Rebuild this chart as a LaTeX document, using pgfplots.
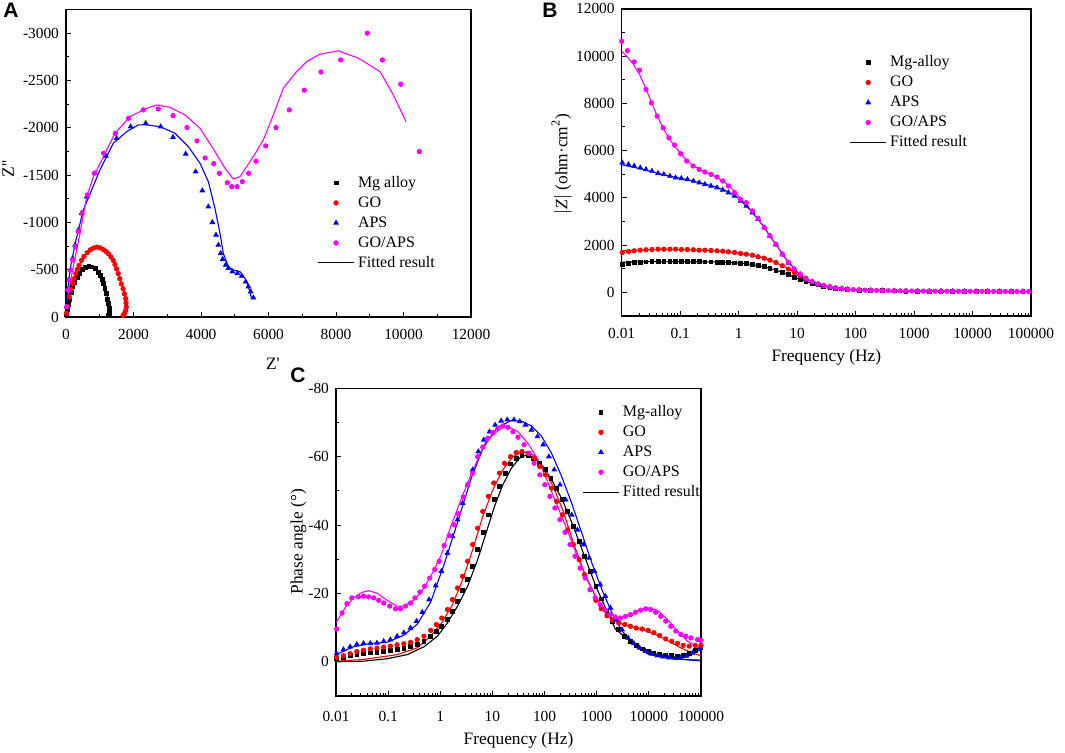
\documentclass[border=0pt]{standalone}
\usepackage{fontspec}
\setmainfont{Liberation Serif}
\newfontfamily\lsans{Liberation Sans}
\usepackage{pgfplots}
\pgfplotsset{compat=1.18}
\definecolor{mag}{RGB}{255,0,255}
\definecolor{rd}{RGB}{255,0,0}
\definecolor{bl}{RGB}{0,0,255}
\pgfplotsset{
  mylegimg/.style={legend image code/.code={\draw[mark repeat=2,mark phase=2,##1] plot coordinates {(0pt,0pt) (9pt,0pt) (18pt,0pt)};}},
  panel/.style={
    scale only axis, scaled ticks=false,
    axis line style={line width=0.7pt},
    tick align=inside,
    xtick pos=left, ytick pos=left,
    major tick length=2.6pt, minor tick length=1.5pt,
    every tick/.style={black, line width=0.5pt},
    tick label style={font=\fontsize{7.7}{9}\selectfont},
    xticklabel style={yshift=-2.5pt},
    label style={font=\fontsize{8.7}{10}\selectfont},
    legend cell align=left,
    legend style={draw=none, fill=none, inner sep=0pt, row sep=1.2pt, column sep=1.2pt, anchor=north west,
      font=\fontsize{8}{9}\selectfont, nodes={inner sep=0.5pt, text height=6pt, text depth=1.8pt}},
  },
  logx/.style={
    xmin=-2, xmax=5,
    xtick={-2,-1,0,1,2,3,4,5},
    xticklabels={0.01,0.1,1,10,100,1000,10000,100000},
    minor xtick={-1.699,-1.523,-1.398,-1.301,-1.222,-1.155,-1.097,-1.046,
      -0.699,-0.523,-0.398,-0.301,-0.222,-0.155,-0.097,-0.046,
      0.301,0.477,0.602,0.699,0.778,0.845,0.903,0.954,
      1.301,1.477,1.602,1.699,1.778,1.845,1.903,1.954,
      2.301,2.477,2.602,2.699,2.778,2.845,2.903,2.954,
      3.301,3.477,3.602,3.699,3.778,3.845,3.903,3.954,
      4.301,4.477,4.602,4.699,4.778,4.845,4.903,4.954},
  },
  sq/.style={only marks, mark=square*, mark size=0.95pt, black},
  ci/.style={only marks, mark=*, mark size=1.1pt, rd},
  tr/.style={only marks, mark=triangle*, mark size=1.3pt, bl},
  cm/.style={only marks, mark=*, mark size=1.1pt, mag},
  fit/.style={no marks, line width=0.55pt},
}
\begin{document}
\begin{tikzpicture}
\useasboundingbox (0,0) rectangle (532.5pt,-376pt);
\node[font=\lsans\bfseries\fontsize{10.5}{12}\selectfont] at (5.5pt,-5.25pt) {A};
\node[font=\lsans\bfseries\fontsize{10.5}{12}\selectfont] at (275pt,-5pt) {B};
\node[font=\lsans\bfseries\fontsize{10.5}{12}\selectfont] at (149pt,-187.5pt) {C};

% ---------------- Panel A ----------------
\begin{axis}[panel, at={(33pt,-158.5pt)}, anchor=south west, width=202.5pt, height=153.75pt,
  xmin=0, xmax=12000, ymin=-3250, ymax=0, y dir=reverse,
  xtick={0,2000,4000,6000,8000,10000,12000},
  xticklabels={0,2000,4000,6000,8000,10000,12000},
  minor xtick={1000,3000,5000,7000,9000,11000},
  ytick={-3000,-2500,-2000,-1500,-1000,-500,0},
  yticklabels={-3000,-2500,-2000,-1500,-1000,-500,0},
  minor ytick={-3250,-2750,-2250,-1750,-1250,-750,-250},
  xlabel={Z\textquotesingle}, ylabel={Z\textquotesingle\textquotesingle},
  xlabel style={at={(axis description cs:0.511,-0.151)}, anchor=center},
  ylabel style={at={(axis description cs:-0.143,0.481)}, anchor=center},
  legend style={at={(0.620,0.466)}},
]
\addplot[sq, forget plot] coordinates {(10,-30) (30,-80) (60,-130) (97,-180) (150,-260) (200,-320) (260,-370) (338,-422) (410,-465) (483,-500) (580,-525) (676,-538) (770,-530) (869,-510) (950,-475) (1014,-440) (1070,-400) (1111,-352) (1150,-300) (1188,-246) (1225,-190) (1256,-141) (1275,-95) (1285,-53) (1275,-30) (1256,-18)};
\addplot[fit, black, forget plot] coordinates {(0,0) (50,-110) (150,-260) (300,-400) (500,-505) (700,-540) (900,-505) (1050,-420) (1150,-320) (1230,-200) (1270,-100) (1290,-30) (1280,0)};
\addplot[ci, forget plot] coordinates {(10,-40) (40,-110) (97,-211) (145,-290) (193,-352) (240,-405) (290,-458) (340,-505) (386,-546) (460,-600) (531,-641) (630,-680) (725,-711) (820,-730) (918,-739) (1015,-730) (1111,-711) (1190,-692) (1256,-669) (1330,-635) (1401,-598) (1450,-555) (1497,-510) (1545,-460) (1594,-405) (1640,-350) (1691,-299) (1730,-245) (1768,-194) (1780,-150) (1787,-106) (1770,-70) (1739,-42) (1691,-18)};
\addplot[fit, rd, forget plot] coordinates {(0,0) (40,-110) (150,-300) (300,-470) (500,-620) (700,-705) (900,-740) (1100,-715) (1300,-650) (1450,-560) (1580,-420) (1690,-300) (1770,-180) (1800,-90) (1790,-40) (1760,-10)};
\addplot[tr, forget plot] coordinates {(20,-109) (49,-285) (89,-391) (138,-497) (197,-620) (267,-761) (366,-920) (464,-1096) (612,-1272) (859,-1519) (1185,-1702) (1501,-1889) (1916,-2012) (2360,-2048) (2806,-2012) (3170,-1900) (3546,-1724) (3841,-1536) (4039,-1336) (4217,-1166) (4336,-1001) (4445,-867) (4513,-761) (4583,-673) (4642,-610) (4731,-550) (4810,-515) (4929,-479) (5076,-462) (5205,-434) (5324,-373) (5403,-321) (5472,-268) (5550,-204)};
\addplot[fit, bl, forget plot] coordinates {(0,0) (50,-300) (150,-560) (300,-820) (513,-1131) (1007,-1554) (1402,-1836) (1797,-1959) (2143,-2030) (2390,-2030) (2785,-2012) (3230,-1942) (3625,-1801) (3970,-1625) (4217,-1431) (4415,-1145) (4563,-885) (4661,-673) (4810,-532) (4958,-497) (5156,-479) (5304,-409) (5403,-321) (5502,-190)};
\addplot[cm, forget plot] coordinates {(20,-109) (59,-285) (99,-391) (138,-497) (197,-603) (276,-743) (366,-902) (474,-1096) (632,-1290) (839,-1519) (1116,-1731) (1462,-1942) (1857,-2101) (2291,-2189) (2735,-2199) (3170,-2129) (3585,-2002) (3881,-1861) (4119,-1681) (4376,-1621) (4543,-1519) (4780,-1420) (4909,-1378) (5067,-1378) (5224,-1431) (5413,-1519) (5630,-1646) (5916,-1808) (6222,-2002) (6617,-2189) (7062,-2397) (7556,-2590) (8139,-2717) (8928,-3000) (9373,-2717) (9917,-2460) (10469,-1748)};
\addplot[fit, mag, forget plot] coordinates {(0,0) (118,-356) (415,-885) (612,-1272) (810,-1480) (1452,-1942) (1896,-2118) (2390,-2206) (2686,-2241) (3081,-2216) (3526,-2136) (3970,-1995) (4415,-1748) (4711,-1572) (4958,-1459) (5156,-1484) (5550,-1695) (5847,-1872) (6143,-2136) (6440,-2418) (6835,-2594) (7131,-2700) (7526,-2778) (8069,-2813) (8662,-2736) (9304,-2594) (9699,-2347) (10074,-2065)};
\addlegendimage{sq, mylegimg}\addlegendentry{Mg alloy}
\addlegendimage{ci, mylegimg}\addlegendentry{GO}
\addlegendimage{tr, mylegimg}\addlegendentry{APS}
\addlegendimage{cm, mylegimg}\addlegendentry{GO/APS}
\addlegendimage{fit, black, mylegimg}\addlegendentry{Fitted result}
\end{axis}

% ---------------- Panel B ----------------
\begin{axis}[panel, logx, at={(310.85pt,-158pt)}, anchor=south west, width=204.65pt, height=153.6pt,
  ymin=-1000, ymax=12000,
  ytick={0,2000,4000,6000,8000,10000,12000},
  yticklabels={0,2000,4000,6000,8000,10000,12000},
  minor ytick={-1000,1000,3000,5000,7000,9000,11000},
  xlabel={Frequency (Hz)}, ylabel={$|$\textit{Z}$|$ (ohm·cm\textsuperscript{2})},
  xlabel style={at={(axis description cs:0.5,-0.1345)}, anchor=center},
  ylabel style={at={(axis description cs:-0.1466,0.494)}, anchor=center},
  legend style={at={(0.556,0.855)}},
]
\addplot[sq, forget plot] coordinates {(-1.99,1196) (-1.885,1238) (-1.787,1266) (-1.683,1280) (-1.585,1294) (-1.482,1300) (-1.378,1305) (-1.28,1308) (-1.176,1308) (-1.078,1308) (-0.98,1305) (-0.877,1305) (-0.773,1300) (-0.675,1300) (-0.577,1294) (-0.473,1290) (-0.37,1285) (-0.272,1280) (-0.174,1266) (-0.07,1250) (0.033,1235) (0.131,1210) (0.235,1175) (0.333,1135) (0.437,1085) (0.535,1027) (0.638,943) (0.747,844) (0.851,746) (0.949,640) (1.052,540) (1.151,455) (1.255,380) (1.358,318) (1.456,265) (1.56,220) (1.658,180) (1.762,150) (1.865,125) (2.06,97) (2.26,81) (2.46,70) (2.66,62) (2.86,56) (3.06,52) (3.26,48) (3.46,45) (3.66,43) (3.86,41) (4.06,39) (4.26,37) (4.46,36) (4.66,35) (4.86,34)};
\addplot[fit, black, forget plot] coordinates {(-2,1280) (-1.5,1300) (-1,1305) (-0.4,1290) (0,1250) (0.2,1190) (0.4,1100) (0.6,970) (0.8,800) (1.0,600) (1.2,420) (1.4,300) (1.6,210) (1.8,140) (2,100) (2.5,72) (3,55) (4,40) (5,32)};
\addplot[ci, forget plot] coordinates {(-1.99,1688) (-1.885,1730) (-1.787,1759) (-1.683,1787) (-1.585,1801) (-1.482,1815) (-1.378,1829) (-1.28,1829) (-1.176,1829) (-1.078,1829) (-0.98,1815) (-0.877,1815) (-0.773,1801) (-0.675,1787) (-0.577,1787) (-0.473,1773) (-0.37,1759) (-0.272,1745) (-0.174,1716) (-0.07,1688) (0.033,1646) (0.131,1618) (0.235,1576) (0.333,1505) (0.437,1449) (0.535,1365) (0.638,1266) (0.747,1126) (0.851,985) (0.949,844) (1.052,704) (1.151,563) (1.255,450) (1.358,352) (1.456,281) (1.56,230) (1.658,180) (1.762,150) (1.865,125) (2.06,99) (2.26,83) (2.46,72) (2.66,64) (2.86,58) (3.06,53) (3.26,49) (3.46,46) (3.66,44) (3.86,42) (4.06,40) (4.26,38) (4.46,37) (4.66,36) (4.86,35)};
\addplot[fit, rd, forget plot] coordinates {(-2,1760) (-1.6,1800) (-1.2,1820) (-0.8,1800) (-0.4,1760) (0,1660) (0.2,1580) (0.4,1470) (0.6,1300) (0.8,1060) (1.0,780) (1.2,510) (1.4,320) (1.6,210) (1.8,140) (2,100) (3,55) (4,40) (5,32)};
\addplot[tr, forget plot] coordinates {(-1.99,5487) (-1.885,5417) (-1.787,5347) (-1.683,5276) (-1.585,5206) (-1.482,5135) (-1.378,5037) (-1.28,4995) (-1.176,4924) (-1.078,4854) (-0.98,4826) (-0.877,4784) (-0.773,4713) (-0.675,4643) (-0.577,4573) (-0.473,4502) (-0.37,4432) (-0.272,4334) (-0.174,4221) (-0.07,4080) (0.033,3869) (0.131,3658) (0.235,3377) (0.333,3095) (0.437,2744) (0.535,2392) (0.638,2020) (0.747,1600) (0.851,1250) (0.949,975) (1.052,765) (1.151,585) (1.255,445) (1.358,345) (1.456,275) (1.56,230) (1.658,180) (1.762,150) (1.865,125) (2.06,100) (2.26,84) (2.46,73) (2.66,64) (2.86,58) (3.06,53) (3.26,49) (3.46,46) (3.66,44) (3.86,42) (4.06,40) (4.26,38) (4.46,37) (4.66,36) (4.86,35)};
\addplot[fit, bl, forget plot] coordinates {(-2,5400) (-1.8,5300) (-1.6,5180) (-1.4,5050) (-1.2,4930) (-1.0,4830) (-0.8,4720) (-0.6,4600) (-0.4,4470) (-0.2,4280) (0,3980) (0.2,3480) (0.4,2880) (0.6,2160) (0.8,1440) (1.0,870) (1.2,510) (1.4,310) (1.6,200) (1.8,140) (2,105) (2.5,75) (3,58) (4,41) (5,33)};
\addplot[cm, forget plot] coordinates {(-2.0,10623) (-1.902,10229) (-1.787,9750) (-1.695,9399) (-1.585,8583) (-1.493,8020) (-1.395,7457) (-1.291,6965) (-1.194,6543) (-1.096,6233) (-0.992,5867) (-0.888,5558) (-0.779,5347) (-0.675,5206) (-0.577,5093) (-0.473,4995) (-0.370,4882) (-0.272,4713) (-0.174,4502) (-0.070,4221) (0.033,3939) (0.131,3799) (0.235,3447) (0.333,3138) (0.437,2744) (0.535,2392) (0.638,2040) (0.747,1618) (0.851,1266) (0.949,985) (1.052,774) (1.151,591) (1.255,450) (1.358,352) (1.456,281) (1.56,239) (1.658,183) (1.762,155) (1.865,127) (1.96,115) (2.06,103) (2.16,94) (2.26,86) (2.36,80) (2.46,75) (2.56,71) (2.66,67) (2.76,64) (2.86,61) (2.96,58) (3.06,56) (3.16,54) (3.26,52) (3.36,50) (3.46,49) (3.56,48) (3.66,47) (3.76,46) (3.86,45) (3.96,44) (4.06,43) (4.16,42) (4.26,41) (4.36,41) (4.46,40) (4.56,40) (4.66,39) (4.76,39) (4.86,38) (4.96,38)};
\addplot[fit, mag, forget plot] coordinates {(-2,10200) (-1.9,9950) (-1.8,9650) (-1.7,9250) (-1.6,8700) (-1.5,8100) (-1.4,7500) (-1.3,7000) (-1.2,6550) (-1.1,6200) (-1.0,5900) (-0.9,5600) (-0.8,5400) (-0.7,5250) (-0.6,5130) (-0.5,5020) (-0.4,4900) (-0.3,4750) (-0.2,4580) (-0.1,4350) (0,4050) (0.1,3800) (0.2,3520) (0.3,3200) (0.4,2850) (0.5,2500) (0.6,2150) (0.7,1800) (0.8,1450) (0.9,1130) (1.0,880) (1.1,680) (1.2,520) (1.3,400) (1.4,320) (1.5,260) (1.6,210) (1.7,170) (1.8,140) (2.0,110) (2.5,80) (3,62) (4,44) (5,36)};
\addlegendimage{sq, mylegimg}\addlegendentry{Mg-alloy}
\addlegendimage{ci, mylegimg}\addlegendentry{GO}
\addlegendimage{tr, mylegimg}\addlegendentry{APS}
\addlegendimage{cm, mylegimg}\addlegendentry{GO/APS}
\addlegendimage{fit, black, mylegimg}\addlegendentry{Fitted result}
\end{axis}

% ---------------- Panel C ----------------
\begin{axis}[panel, logx, at={(168pt,-348pt)}, anchor=south west, width=182.5pt, height=153.85pt,
  ymin=-80, ymax=10, y dir=reverse,
  ytick={-80,-60,-40,-20,0}, yticklabels={-80,-60,-40,-20,0},
  minor ytick={-70,-50,-30,-10,10},
  xticklabel style={yshift=-1.5pt},
  xlabel={Frequency (Hz)}, ylabel={Phase angle (°)},
  xlabel style={at={(axis description cs:0.5,-0.143)}, anchor=center},
  ylabel style={at={(axis description cs:-0.103,0.501)}, anchor=center},
  legend style={at={(0.674,0.952)}},
]
\addplot[sq, forget plot] coordinates {(-1.987,-0.9) (-1.858,-1.4) (-1.730,-1.8) (-1.601,-2.1) (-1.472,-2.4) (-1.343,-2.6) (-1.214,-2.8) (-1.086,-3.0) (-0.957,-3.3) (-0.828,-3.6) (-0.699,-4.0) (-0.570,-4.6) (-0.442,-5.1) (-0.313,-6.0) (-0.184,-7.5) (-0.075,-9.0) (0.028,-10.4) (0.138,-12.4) (0.234,-14.8) (0.331,-17.7) (0.428,-20.9) (0.524,-24.0) (0.621,-27.9) (0.717,-32.8) (0.827,-37.9) (0.930,-43.0) (1.039,-47.4) (1.136,-51.3) (1.245,-55.2) (1.348,-57.9) (1.458,-59.6) (1.567,-60.3) (1.683,-60.3) (1.793,-59.6) (1.908,-58.1) (2.018,-56.2) (2.121,-53.7) (2.231,-50.8) (2.340,-47.4) (2.443,-44.0) (2.553,-39.6) (2.662,-35.2) (2.765,-30.9) (2.874,-26.5) (2.984,-22.1) (3.087,-18.4) (3.196,-14.8) (3.306,-11.9) (3.422,-9.4) (3.538,-7.5) (3.647,-6.0) (3.757,-4.8) (3.873,-3.8) (3.988,-3.1) (4.098,-2.6) (4.207,-2.2) (4.323,-2.0) (4.439,-1.8) (4.549,-1.7) (4.658,-1.8) (4.774,-2.4) (4.890,-3.4) (4.999,-4.1)};
\addplot[fit, black, forget plot] coordinates {(-2,0) (-1.472,-0.2) (-1.021,-0.9) (-0.635,-2.1) (-0.313,-4.4) (-0.055,-7.5) (0.138,-11.4) (0.331,-16.3) (0.524,-22.1) (0.717,-29.9) (0.878,-37.7) (1.039,-45.4) (1.200,-51.8) (1.361,-56.6) (1.522,-59.6) (1.651,-60.5) (1.780,-60.0) (1.908,-58.1) (2.121,-53.7) (2.340,-47.4) (2.553,-39.6) (2.765,-30.9) (2.984,-22.1) (3.196,-14.8) (3.357,-9.6) (3.679,-5.5) (4.001,-2.8) (4.323,-1.4) (4.645,-0.7) (5.0,-0.3)};
\addplot[ci, forget plot] coordinates {(-1.987,-1.2) (-1.858,-1.8) (-1.730,-2.4) (-1.601,-3.0) (-1.472,-3.4) (-1.343,-3.8) (-1.214,-4.0) (-1.086,-4.3) (-0.957,-4.6) (-0.828,-5.0) (-0.699,-5.3) (-0.570,-5.7) (-0.442,-6.5) (-0.313,-7.5) (-0.184,-9.2) (-0.075,-10.9) (0.028,-12.8) (0.138,-15.3) (0.234,-18.2) (0.331,-21.6) (0.428,-25.0) (0.524,-29.4) (0.621,-34.3) (0.717,-39.1) (0.814,-44.0) (0.923,-48.4) (1.026,-52.3) (1.136,-55.2) (1.232,-58.1) (1.348,-60.0) (1.458,-61.2) (1.567,-61.5) (1.683,-61.0) (1.799,-59.6) (1.908,-57.1) (2.018,-54.7) (2.134,-50.8) (2.231,-46.9) (2.340,-43.0) (2.443,-38.6) (2.553,-34.3) (2.662,-29.9) (2.765,-25.5) (2.874,-21.1) (2.984,-18.0) (3.087,-15.5) (3.196,-13.5) (3.306,-12.2) (3.422,-11.4) (3.538,-10.9) (3.647,-10.4) (3.757,-9.9) (3.873,-9.6) (3.988,-9.2) (4.098,-8.5) (4.207,-7.7) (4.323,-6.7) (4.439,-6.0) (4.549,-5.4) (4.658,-4.8) (4.774,-4.6) (4.890,-4.8) (4.999,-4.8)};
\addplot[fit, rd, forget plot] coordinates {(-2,-0.2) (-1.472,-0.7) (-0.828,-2.1) (-0.442,-4.1) (-0.184,-7.5) (0.028,-11.4) (0.234,-16.7) (0.428,-24.0) (0.621,-32.8) (0.814,-42.5) (1.007,-50.3) (1.200,-56.2) (1.393,-60.0) (1.586,-61.5) (1.780,-60.5) (1.973,-57.1) (2.166,-51.3) (2.359,-44.0) (2.553,-34.7) (2.765,-26.0) (2.971,-19.2) (3.164,-14.8) (3.357,-11.9) (3.615,-10.4) (3.873,-9.4) (4.130,-8.0) (4.388,-6.0) (4.645,-3.8) (5.0,-1.7)};
\addplot[tr, forget plot] coordinates {(-1.987,-2.4) (-1.858,-3.6) (-1.730,-4.4) (-1.601,-5.1) (-1.472,-5.4) (-1.343,-5.4) (-1.214,-5.5) (-1.086,-6.0) (-0.957,-6.5) (-0.828,-7.5) (-0.699,-8.5) (-0.571,-9.9) (-0.455,-11.9) (-0.345,-14.5) (-0.216,-18.2) (-0.088,-22.3) (0.022,-26.5) (0.138,-31.8) (0.234,-36.7) (0.331,-41.6) (0.428,-46.4) (0.524,-51.8) (0.621,-56.2) (0.730,-61.5) (0.833,-64.9) (0.943,-67.3) (1.052,-69.3) (1.168,-70.5) (1.284,-70.8) (1.413,-70.8) (1.522,-70.3) (1.632,-69.3) (1.748,-67.8) (1.864,-65.9) (1.973,-63.5) (2.082,-60.0) (2.185,-56.2) (2.295,-51.8) (2.404,-47.4) (2.520,-43.0) (2.630,-38.6) (2.746,-34.3) (2.855,-30.4) (2.958,-26.5) (3.068,-22.6) (3.164,-19.2) (3.261,-15.8) (3.370,-12.4) (3.486,-9.4) (3.602,-7.0) (3.712,-5.4) (3.821,-4.1) (3.937,-3.1) (4.053,-2.4) (4.162,-1.8) (4.272,-1.5) (4.388,-1.2) (4.504,-1.0) (4.613,-1.2) (4.723,-1.7) (4.838,-2.6) (4.967,-3.6)};
\addplot[fit, bl, forget plot] coordinates {(-2,-2.1) (-1.665,-4.4) (-1.343,-5.4) (-1.021,-5.7) (-0.699,-7.8) (-0.442,-11.0) (-0.184,-17.5) (0.073,-28.5) (0.331,-40.8) (0.589,-53.5) (0.846,-63.5) (1.104,-68.6) (1.361,-70.6) (1.554,-70.4) (1.748,-69.0) (1.941,-66.0) (2.134,-61.0) (2.327,-54.2) (2.520,-46.4) (2.713,-37.7) (2.907,-28.9) (3.100,-21.1) (3.293,-14.3) (3.486,-9.0) (3.744,-4.6) (4.001,-2.1) (4.323,-1.2) (4.645,-0.7) (5.0,-0.5)};
\addplot[cm, forget plot] coordinates {(-1.987,-9.6) (-1.884,-14.3) (-1.79,-17.0) (-1.697,-18.7) (-1.569,-19.0) (-1.472,-19.2) (-1.375,-19.0) (-1.279,-18.7) (-1.182,-18.0) (-1.086,-17.2) (-0.970,-16.3) (-0.860,-15.5) (-0.764,-15.5) (-0.667,-16.3) (-0.571,-17.2) (-0.487,-18.7) (-0.390,-20.4) (-0.300,-22.1) (-0.204,-24.5) (-0.107,-27.0) (-0.023,-29.4) (0.073,-34.0) (0.170,-36.9) (0.267,-40.1) (0.344,-43.3) (0.440,-48.2) (0.524,-51.8) (0.621,-55.2) (0.717,-60.0) (0.814,-62.8) (0.911,-65.4) (1.007,-67.1) (1.104,-68.3) (1.200,-69.0) (1.297,-68.6) (1.393,-67.3) (1.490,-65.7) (1.606,-63.5) (1.702,-61.0) (1.799,-58.1) (1.909,-54.7) (2.005,-51.8) (2.102,-48.4) (2.198,-45.0) (2.295,-41.6) (2.392,-37.9) (2.488,-34.3) (2.585,-30.9) (2.681,-27.4) (2.778,-24.5) (2.874,-21.1) (2.971,-18.7) (3.068,-16.7) (3.164,-15.1) (3.261,-13.8) (3.357,-13.1) (3.454,-12.8) (3.551,-13.3) (3.647,-13.8) (3.744,-14.5) (3.840,-15.1) (3.937,-15.5) (4.034,-15.3) (4.130,-14.5) (4.227,-13.3) (4.323,-11.9) (4.420,-10.4) (4.517,-9.0) (4.613,-8.0) (4.710,-7.5) (4.806,-7.0) (4.935,-6.5) (5.0,-6.3)};
\addplot[fit, mag, forget plot] coordinates {(-2,-11.4) (-1.826,-15.8) (-1.665,-18.7) (-1.504,-20.3) (-1.375,-20.8) (-1.214,-20.1) (-1.021,-18.0) (-0.828,-16.3) (-0.699,-16.3) (-0.538,-17.7) (-0.377,-20.1) (-0.184,-25.0) (0.009,-30.9) (0.202,-39.6) (0.395,-47.4) (0.589,-54.7) (0.782,-61.5) (0.975,-65.9) (1.168,-68.3) (1.297,-68.8) (1.490,-67.3) (1.683,-63.9) (1.876,-59.1) (2.070,-52.3) (2.263,-45.0) (2.456,-37.7) (2.649,-29.9) (2.842,-23.1) (3.035,-17.7) (3.229,-14.1) (3.422,-12.8) (3.615,-13.5) (3.808,-15.1) (3.969,-15.8) (4.162,-15.1) (4.355,-12.4) (4.549,-9.0) (4.742,-6.0) (5.0,-3.8)};
\addlegendimage{sq, mylegimg}\addlegendentry{Mg-alloy}
\addlegendimage{ci, mylegimg}\addlegendentry{GO}
\addlegendimage{tr, mylegimg}\addlegendentry{APS}
\addlegendimage{cm, mylegimg}\addlegendentry{GO/APS}
\addlegendimage{fit, black, mylegimg}\addlegendentry{Fitted result}
\end{axis}
\end{tikzpicture}
\end{document}
